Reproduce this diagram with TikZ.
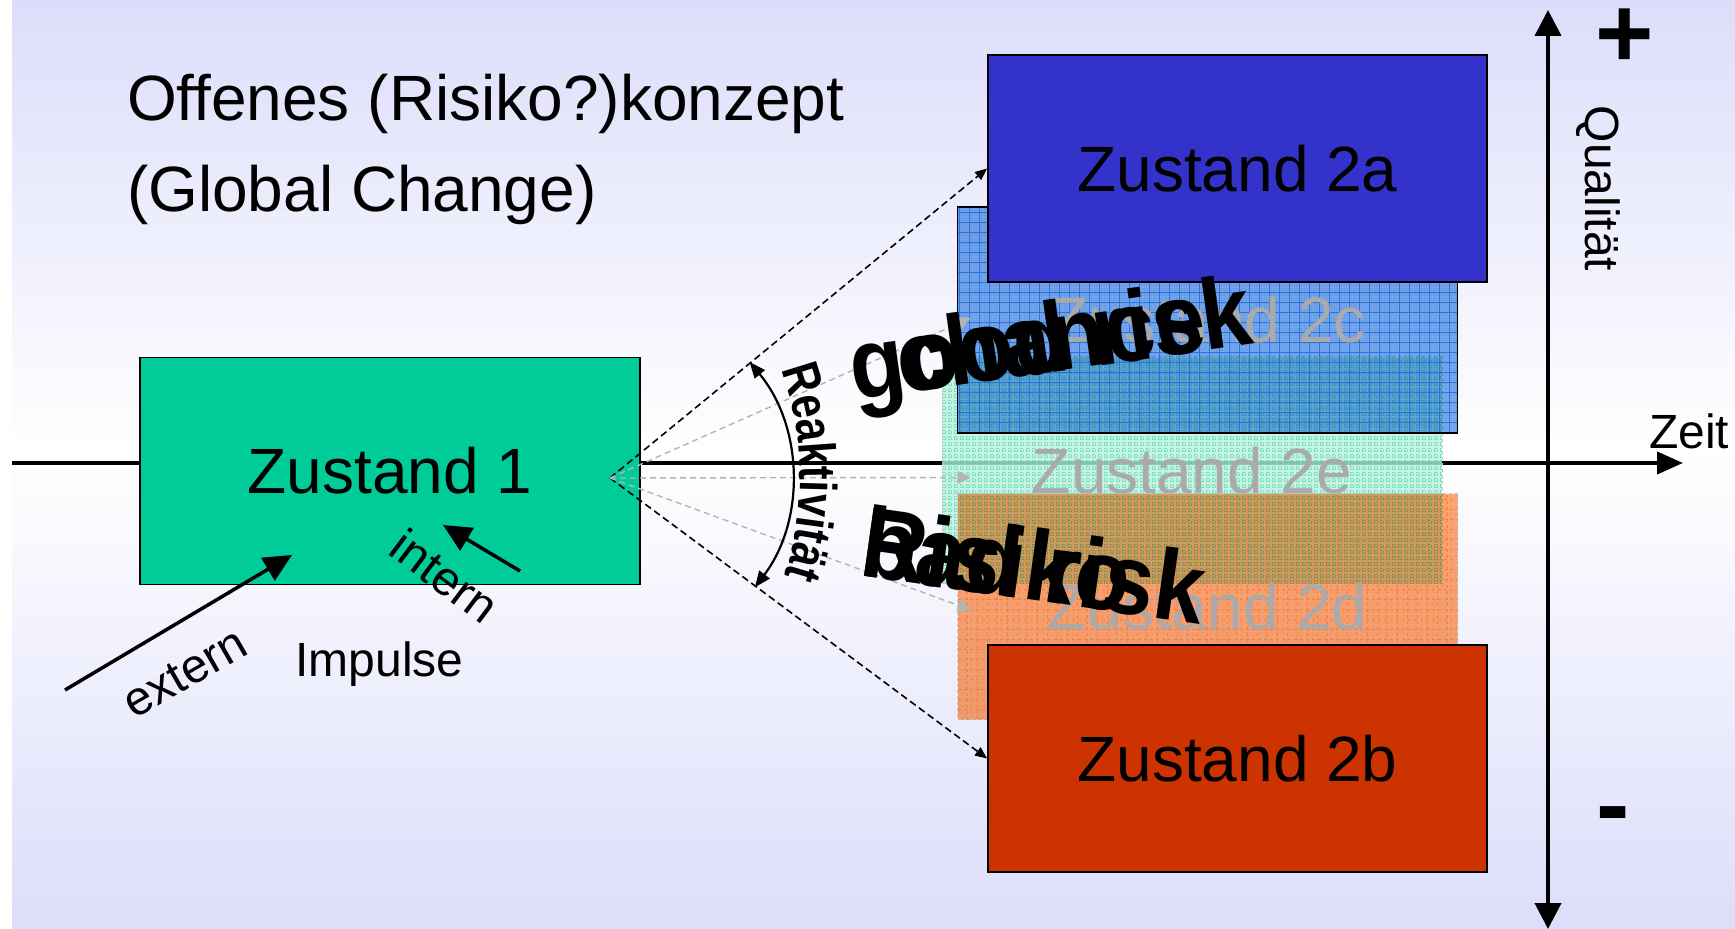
\documentclass[tikz,border=0pt]{standalone}
\usepackage{fontspec}
\setmainfont{Liberation Sans}
\newfontfamily\bigcond{Liberation Sans}[FakeStretch=0.9]
\newfontfamily\reakcond{Liberation Sans}[FakeStretch=0.8]
\usetikzlibrary{arrows.meta,decorations.text}
\definecolor{bgl}{RGB}{220,221,250}
\definecolor{zOne}{RGB}{0,204,153}
\definecolor{zA}{RGB}{51,51,204}
\definecolor{zB}{RGB}{204,51,0}
\definecolor{cfill}{RGB}{128,176,238}
\definecolor{cline}{RGB}{30,110,215}
\definecolor{efill}{RGB}{185,242,222}
\definecolor{eline}{RGB}{70,210,165}
\definecolor{dfill}{RGB}{255,168,118}
\definecolor{dline}{RGB}{255,120,30}
\definecolor{zgray}{RGB}{170,170,170}
\definecolor{dgray}{RGB}{180,180,180}
\begin{document}
\begin{tikzpicture}[x=0.5pt,y=0.5pt,
  txt/.style={inner sep=0pt, outer sep=0pt},
  zbox/.style={draw=black, line width=0.9pt, minimum width=250pt, minimum height=113.5pt, inner sep=0pt,
    font=\fontsize{32pt}{38pt}\selectfont},
  patbox/.style 2 args={zbox, text=zgray,
    path picture={
      \fill[#1, blend mode=multiply] (path picture bounding box.south west) rectangle (path picture bounding box.north east);
      \draw[#2, line width=0.25pt, opacity=0.18] (path picture bounding box.south west) grid[step=1.25pt] (path picture bounding box.north east);
      \draw[#2, line width=0.6pt, opacity=0.85] (path picture bounding box.south west) grid[step=5pt] (path picture bounding box.north east);}},
  epatbox/.style={zbox, text=zgray, fill=efill, fill opacity=0.8, text opacity=1,
    draw=gray!45, line width=0.5pt, dash pattern=on 1.5pt off 1.5pt,
    path picture={
      \draw[eline, line width=0.3pt, opacity=0.55] (path picture bounding box.south west) grid[step=1.5pt] (path picture bounding box.north east);}},
  blkdash/.style={draw=black, line width=0.8pt, dash pattern=on 3.5pt off 2pt, -{Triangle[length=6pt,width=5pt]}},
  grydash/.style={draw=dgray, line width=0.7pt, dash pattern=on 3pt off 2pt, -{Triangle[length=6.5pt,width=6.5pt]}},
  axisline/.style={line width=2pt, draw=black},
  impulse/.style={line width=1.75pt, -{Triangle[length=14pt,width=13pt]}},
  bigbold/.style={txt, font=\bigcond\bfseries\fontsize{50pt}{55pt}\selectfont},
  lbl/.style={txt, font=\fontsize{24pt}{28pt}\selectfont}
]
\useasboundingbox (0,0) rectangle (1735,-929);
% background
\fill[white] (0,0) rectangle (1735,-929);
\shade[top color=bgl, bottom color=white] (12,0) rectangle (1735,-450);
\shade[top color=white, bottom color=bgl] (12,-450) rectangle (1735,-929);

% axes
\coordinate (hx0) at (12,-463);
\coordinate (hx1) at (1683,-463);
\coordinate (vy0) at (1548,-929);
\coordinate (vy1) at (1548,-10);
\draw[axisline, -{Triangle[length=13pt,width=11pt]}] (hx0) -- (hx1);
\draw[axisline, {Triangle[length=13pt,width=13pt]}-{Triangle[length=13pt,width=13pt]}] (vy0) -- (vy1);

% boxes
\node[zbox, fill=zOne] (z1) at (390,-471) {Zustand 1};
\node[epatbox] (z2e) at (1192,-470.5) {Zustand 2e};
\node[patbox={cfill}{cline}, minimum height=113pt] (z2c) at (1207.5,-320) {Zustand 2c};
\node[patbox={dfill}{dline}, draw=gray!45, line width=0.5pt, dash pattern=on 1.5pt off 1.5pt, minimum height=113pt] (z2d) at (1207.5,-607) {Zustand 2d};
\node[zbox, fill=zA, minimum width=249.5pt] (z2a) at (1237.5,-168.5) {Zustand 2a};
\node[zbox, fill=zB, minimum width=249.5pt] (z2b) at (1237.5,-758.5) {Zustand 2b};

% connectors
\coordinate (src) at (610,-478);
\draw[blkdash] (src) -- (z2a.west);
\draw[blkdash] (src) -- (z2b.west);
\draw[grydash] (src) -- ([xshift=7pt,yshift=1pt]z2c.west);
\draw[grydash] (src) -- ([xshift=14.5pt,yshift=-3.5pt]z2e.west);
\draw[grydash] (src) -- ([xshift=7pt,yshift=-1.5pt]z2d.west);

% Reaktivitaet arc
\draw[line width=1.1pt, {Triangle[length=8pt,width=6.5pt]}-{Triangle[length=8pt,width=6.5pt]}]
  ([shift={(39.7:90.75pt)}]src) arc[start angle=39.7, end angle=-37, radius=90.75pt];
\coordinate (tc) at (482,-478);
\path[decorate, decoration={text along path, text align=center,
  text={|\reakcond\bfseries\fontsize{26pt}{26pt}\selectfont|Reaktivität}}]
  ([shift={(25:159pt)}]tc) arc[start angle=25, end angle=-23, radius=159pt];

% overlapping big texts
\node[bigbold, rotate=8, anchor=base] (good) at (1055,-372) {good risk};
\node[bigbold, rotate=8, anchor=base] (chance) at (1055,-372) {chance};
\node[bigbold, rotate=-8, anchor=base west] (bad) at (858,-576) {bad risk};
\node[bigbold, rotate=-8, anchor=base west] (risiko) at (858,-576) {Risiko};

% impulses
\coordinate (extS) at (65,-690);
\coordinate (extE) at (292,-555);
\coordinate (intS) at (520,-571);
\coordinate (intE) at (443,-525);
\draw[impulse] (extS) -- (extE);
\draw[impulse] (intS) -- (intE);
\node[lbl, rotate=30] (extern) at (185,-673) {extern};
\node[lbl, rotate=-37] (intern) at (445,-576) {intern};
\node[lbl, anchor=base] (impulse) at (379.5,-677) {Impulse};

% title
\node[txt, anchor=base west, font=\fontsize{32pt}{38pt}\selectfont] (title1) at (127,-121) {Offenes (Risiko?)konzept};
\node[txt, anchor=base west, font=\fontsize{32pt}{38pt}\selectfont] (title2) at (127,-212) {(Global Change)};

% axis labels
\node[lbl, rotate=-90] (qual) at (1598,-188.5) {Qualität};
\node[lbl, anchor=base west] (zeit) at (1649,-449) {Zeit};
\node[txt, anchor=base, font=\bfseries\fontsize{50pt}{50pt}\selectfont] (plus) at (1625,-68) {+};
\node[txt, anchor=base, font=\bfseries\fontsize{50pt}{50pt}\selectfont] (minus) at (1613.5,-839) {-};
\end{tikzpicture}
\end{document}
